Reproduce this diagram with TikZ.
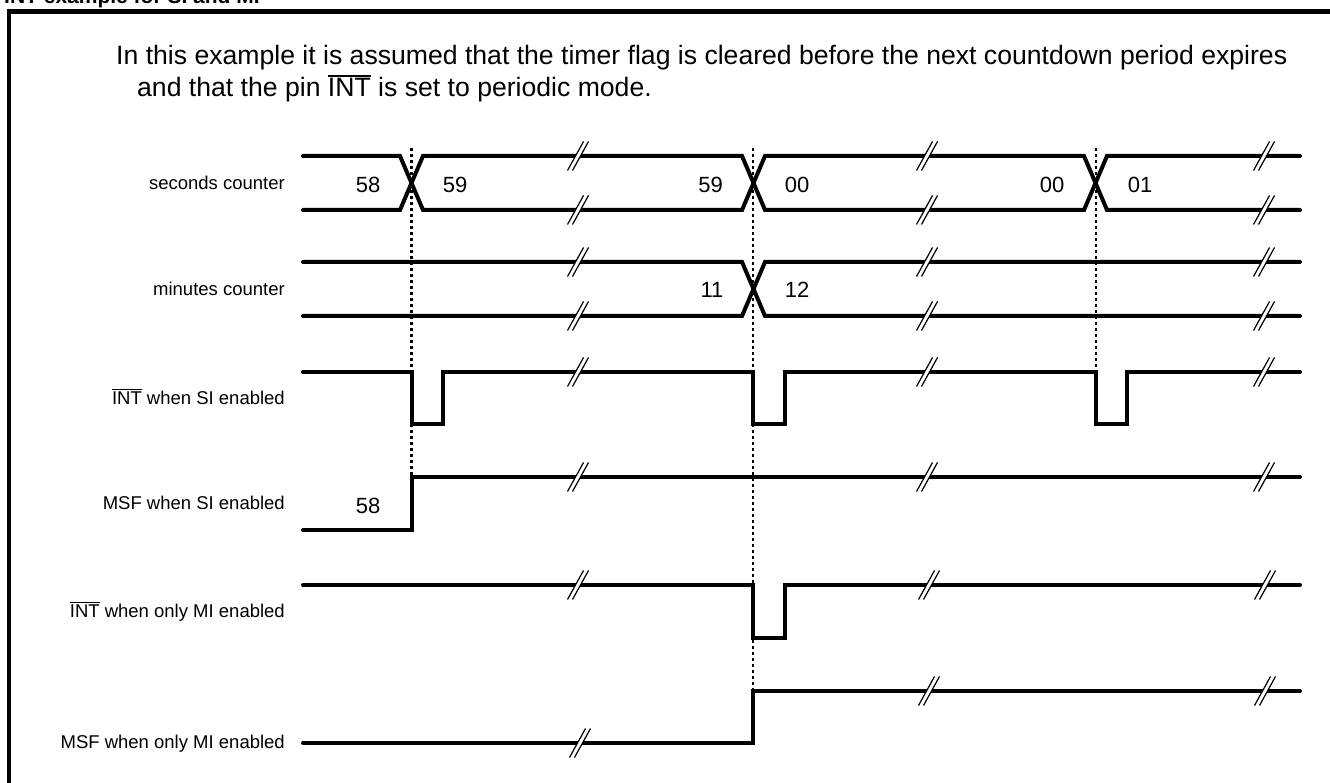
\documentclass[tikz,border=0pt]{standalone}
\usepackage{fontspec}
\setmainfont{Liberation Sans}
\usepackage{graphicx}
\newcommand\ovbar[2][1pt]{\leavevmode\setbox0\hbox{#2}\rlap{\raisebox{\dimexpr\ht0+1.8pt\relax}{\rule{\wd0}{#1}}}\box0\relax}
\newcommand\brkmark[2]{%
  \fill[white] (#1-10.5,#2+14.5) -- (#1+5.5,#2-14.5) -- (#1+10.5,#2-14.5) -- (#1-5.5,#2+14.5) -- cycle;
  \draw[slash] (#1-10.5,#2+14.5) -- (#1+5.5,#2-14.5);
  \draw[slash] (#1-5.5,#2+14.5) -- (#1+10.5,#2-14.5);}
\begin{document}
\begin{tikzpicture}[x=1pt,y=-1pt,
  sig/.style={line width=4pt,line join=miter,line cap=round},
  slash/.style={line width=1.2pt},
  dotline/.style={line width=2.2pt,dash pattern=on 3pt off 3pt},
  lbl/.style={anchor=base east,inner sep=0pt,font=\fontsize{18.5}{22}\selectfont},
  val/.style={anchor=base,inner sep=0pt,font=\fontsize{22}{26}\selectfont},
  txt/.style={anchor=base west,inner sep=0pt,font=\fontsize{26.6}{31}\selectfont}]
\useasboundingbox (0,0) rectangle (1330,783);
% frame and title
\draw[line width=4.7pt] (9,790) -- (9,11.7) -- (1340,11.7);
\node[anchor=base west,inner sep=0pt,font=\fontsize{21}{25}\selectfont\bfseries] (title) at (4,4) {INT example for SI and MI};
% intro text
\node[txt] (line1) at (116,65) {In this example it is assumed that the timer flag is cleared before the next countdown period expires};
\node[txt] (line2) at (137,97) {and that the pin \ovbar[1.6pt]{INT} is set to periodic mode.};
% labels
\node[lbl] (l1) at (285,189.5) {seconds counter};
\node[lbl] (l2) at (285,295.5) {minutes counter};
\node[lbl] (l3) at (285,404.3) {\ovbar{INT} when SI enabled};
\node[lbl] (l4) at (285,509.3) {MSF when SI enabled};
\node[lbl] (l5) at (285,617.5) {\ovbar{INT} when only MI enabled};
\node[lbl] (l6) at (285,748.5) {MSF when only MI enabled};
% dotted markers
\draw[dotline] (411.5,148) -- (411.5,477);
\draw[dotline] (753.3,148) -- (753.3,691);
\draw[dotline] (1095.7,148) -- (1095.7,372);
% seconds counter
\draw[sig] (303,156) -- (400,156) -- (423,210) -- (742,210) -- (765,156) -- (1084,156) -- (1107,210) -- (1300,210);
\draw[sig] (303,210) -- (400,210) -- (423,156) -- (742,156) -- (765,210) -- (1084,210) -- (1107,156) -- (1300,156);
% minutes counter
\draw[sig] (303,262) -- (742,262) -- (765,316) -- (1300,316);
\draw[sig] (303,316) -- (742,316) -- (765,262) -- (1300,262);
% INT SI
\draw[sig] (303,372) -- (411.5,372) -- (411.5,424) -- (443,424) -- (443,372) -- (753.3,372) -- (753.3,424) -- (785,424) -- (785,372) -- (1095.7,372) -- (1095.7,424) -- (1127,424) -- (1127,372) -- (1300,372);
% MSF SI
\draw[sig] (303,530) -- (411.5,530) -- (411.5,477) -- (1300,477);
% INT MI
\draw[sig] (303,585) -- (753.3,585) -- (753.3,638) -- (785,638) -- (785,585) -- (1300,585);
% MSF MI
\draw[sig] (303,743) -- (753.3,743) -- (753.3,691) -- (1300,691);
% break marks
\foreach \yy in {156,210,262,316,372,477} {
  \brkmark{578}{\yy}
  \brkmark{927}{\yy}
  \brkmark{1264}{\yy}
}
\brkmark{578}{585}\brkmark{929}{585}\brkmark{1265}{585}
\brkmark{580}{743}\brkmark{929}{691}\brkmark{1265}{691}
% values
\node[val] (v1) at (368,192.5) {58};
\node[val] (v2) at (455,192.5) {59};
\node[val] (v3) at (710.5,192.5) {59};
\node[val] (v4) at (797,192.5) {00};
\node[val] (v5) at (1052,192.5) {00};
\node[val] (v6) at (1140,192.5) {01};
\node[val] (v7) at (712,297.5) {11};
\node[val] (v8) at (797,297.5) {12};
\node[val] (v9) at (368,513.5) {58};
\end{tikzpicture}
\end{document}
